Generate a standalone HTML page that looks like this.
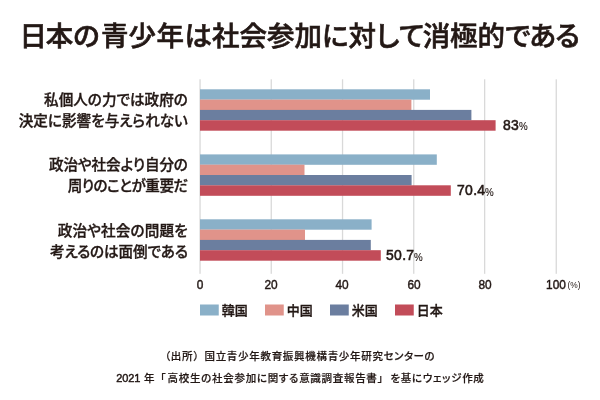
<!DOCTYPE html>
<html lang="ja">
<head>
<meta charset="utf-8">
<title>日本の青少年は社会参加に対して消極的である</title>
<style>
html,body{margin:0;padding:0;background:#fff;}
body{width:600px;height:400px;position:relative;overflow:hidden;color:#231815;
  font-family:"Liberation Sans","Noto Sans CJK JP",sans-serif;}
.abs{position:absolute;white-space:nowrap;}
#chart{position:absolute;left:0;top:0;width:600px;height:400px;}
#title{left:19.6px;top:16.5px;text-align:left;font-size:27.5px;letter-spacing:0px;font-weight:500;-webkit-text-stroke:0.6px #231815;line-height:40px;font-feature-settings:"palt";}
.lab{position:absolute;right:412.2px;text-align:right;font-size:14.6px;font-weight:500;-webkit-text-stroke:0.35px #231815;line-height:21px;white-space:nowrap;font-feature-settings:"palt";}
.lab span{display:block;}
.val{position:absolute;font-size:15.5px;font-weight:400;letter-spacing:0.35px;-webkit-text-stroke:0.6px #231815;line-height:16px;white-space:nowrap;transform:scaleX(0.9);transform-origin:0 50%;}
.pct{position:absolute;font-size:10.6px;line-height:12px;white-space:nowrap;-webkit-text-stroke:0.15px #231815;transform:scaleX(0.92);transform-origin:0 50%;}
.tick{position:absolute;top:277.2px;width:40px;margin-left:-20.1px;text-align:center;font-size:13.2px;line-height:16px;-webkit-text-stroke:0.45px #231815;transform:scaleX(0.9);}
.lg{position:absolute;top:302.6px;font-size:13px;font-weight:500;-webkit-text-stroke:0.35px #231815;line-height:16px;white-space:nowrap;}
.foot{position:absolute;left:0;width:600px;text-align:center;font-size:10.5px;letter-spacing:0.7px;font-weight:500;-webkit-text-stroke:0.2px #231815;line-height:16px;white-space:nowrap;font-feature-settings:"palt";}
.foot i{font-style:normal;font-feature-settings:normal;}
</style>
</head>
<body>
<svg id="chart" width="600" height="400" viewBox="0 0 600 400">
  <g fill="#d9d9d9">
    <rect x="199.4" y="79.3" width="1.3" height="194.5"/>
    <rect x="270.6" y="79.3" width="1.3" height="194.5"/>
    <rect x="341.9" y="79.3" width="1.3" height="194.5"/>
    <rect x="413.1" y="79.3" width="1.3" height="194.5"/>
    <rect x="484.0" y="79.3" width="1.3" height="194.5"/>
    <rect x="555.6" y="79.3" width="1.3" height="194.5"/>
  </g>
  <g fill="#8ab0c8">
    <rect x="200" y="89.3" width="230" height="10.4"/>
    <rect x="200" y="154.4" width="236.8" height="10.4"/>
    <rect x="200" y="219.3" width="171.6" height="10.4"/>
    <rect x="200" y="304.5" width="18.75" height="11"/>
  </g>
  <g fill="#e0938a">
    <rect x="200" y="99.6" width="211.4" height="10.4"/>
    <rect x="200" y="164.7" width="104.5" height="10.4"/>
    <rect x="200" y="229.6" width="105" height="10.4"/>
    <rect x="265" y="304.5" width="18.75" height="11"/>
  </g>
  <g fill="#6b7e9f">
    <rect x="200" y="109.9" width="271.4" height="10.4"/>
    <rect x="200" y="175" width="211.6" height="10.4"/>
    <rect x="200" y="239.9" width="170.8" height="10.4"/>
    <rect x="330" y="304.5" width="18.75" height="11"/>
  </g>
  <g fill="#c24c59">
    <rect x="200" y="120.2" width="295.6" height="10.5"/>
    <rect x="200" y="185.3" width="250.8" height="10.5"/>
    <rect x="200" y="250.2" width="180.8" height="10.5"/>
    <rect x="395" y="304.5" width="18.75" height="11"/>
  </g>
</svg>

<div id="title" class="abs">日<span style="margin:0 1.3px 0 -1.3px">本の</span>青少<span style="margin:0 0.5px">年</span>は社会参加に対<span style="margin-right:-2.2px;letter-spacing:0.5px">して</span>消極的<span style="letter-spacing:-0.8px">である</span></div>

<div class="lab" style="top:90px"><span>私個人の力では政府の</span><span>決定に影響を与えられない</span></div>
<div class="lab" style="top:155px"><span style="letter-spacing:-0.12px">政治や社会より自分の</span><span style="letter-spacing:-0.5px">周りのことが重要だ</span></div>
<div class="lab" style="top:220.6px"><span style="letter-spacing:0.15px">政治や社会の問題を</span><span style="letter-spacing:-0.1px">考えるのは面倒である</span></div>

<div class="val" style="left:502.6px;top:117.1px">83</div><div class="pct" style="left:518.8px;top:120.4px">%</div>
<div class="val" style="left:457px;top:182.3px">70.4</div><div class="pct" style="left:484.8px;top:185.6px">%</div>
<div class="val" style="left:386.2px;top:247.3px">50.7</div><div class="pct" style="left:414.4px;top:250.6px">%</div>

<div class="tick" style="left:200px">0</div>
<div class="tick" style="left:271.25px">20</div>
<div class="tick" style="left:342.5px">40</div>
<div class="tick" style="left:413.75px">60</div>
<div class="tick" style="left:485px">80</div>
<div class="tick" style="left:556.25px">100</div>
<div class="abs" style="left:567.5px;top:278.6px;font-size:8.4px;line-height:12px;letter-spacing:0">(%)</div>

<div class="lg" style="left:221.8px">韓国</div>
<div class="lg" style="left:286.8px">中国</div>
<div class="lg" style="left:351.8px">米国</div>
<div class="lg" style="left:416.8px">日本</div>

<div class="foot" style="top:347.5px">（出所<i>）</i>国立青少年教育振興機構青少年研究<span style="letter-spacing:0.5px">センターの</span></div>
<div class="foot" style="top:369.8px;left:116.2px;width:auto;text-align:left"><span style="letter-spacing:-0.1px;font-size:11px;-webkit-text-stroke:0.45px #231815">2021 </span><span style="margin:0 1.1px 0 0.9px">年<i>「</i></span>高校生の社会参加に関する意識調査報告書<i style="margin-right:1.6px">」</i>を基にウェッジ作成</div>
</body>
</html>
